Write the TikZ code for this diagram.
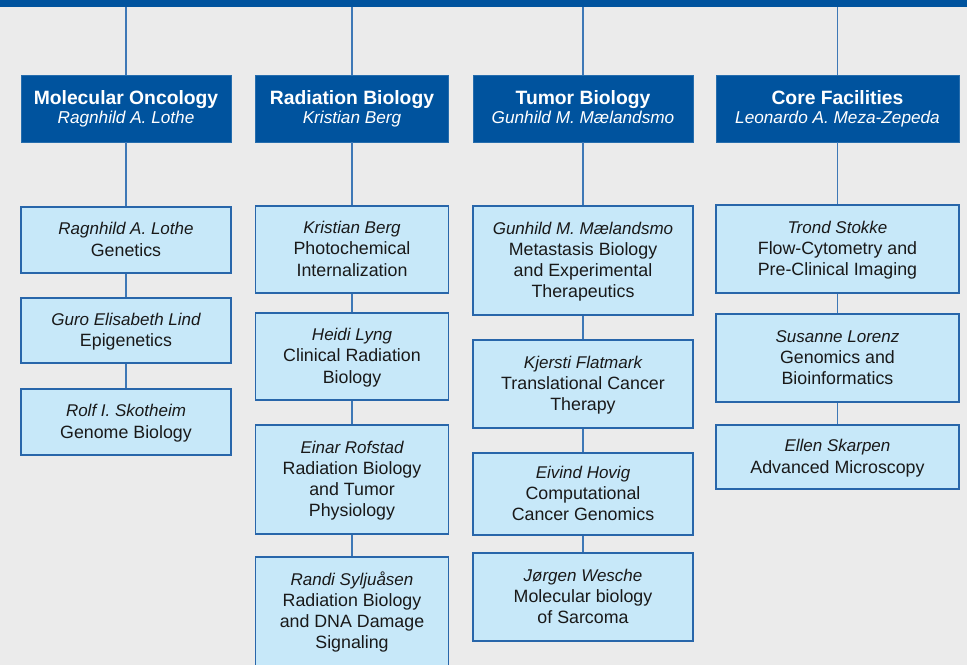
\documentclass[tikz,border=0pt]{standalone}
\usepackage{fontspec}
\setmainfont{Liberation Sans}
\definecolor{pagebg}{RGB}{235,235,235}
\definecolor{headblue}{RGB}{0,83,158}
\definecolor{unitfill}{RGB}{199,232,249}
\definecolor{unitline}{RGB}{40,102,170}
\definecolor{linkblue}{RGB}{62,120,182}
\definecolor{inktext}{RGB}{25,25,25}
% department header: bold title over the italic head name
\newcommand\hd[2]{\begin{tabular}{@{}c@{}}\rule{0pt}{17.7bp}{\fontsize{19.3bp}{19bp}\selectfont\bfseries #1}\\\itshape #2\end{tabular}}
% research group: italic leader name, then the group's field
\newcommand\ut[2]{\begin{tabular}{@{}c@{}}\rule{0pt}{17.3bp}{\fontsize{17bp}{21.3bp}\selectfont\itshape #1}\\#2\end{tabular}}
\begin{document}
\begin{tikzpicture}[x=1bp,y=-1bp,
  topbar/.style={fill=headblue, draw=none, inner sep=0, minimum width=967bp, minimum height=7bp},
  head/.style={fill=headblue, draw=headblue!85!white, line width=0.8bp, inner sep=0,
    text=white, font=\fontsize{17.2bp}{19bp}\selectfont},
  unit/.style={fill=unitfill, draw=unitline, line width=1.3bp, inner sep=0,
    text=inktext, font=\fontsize{17.8bp}{21.3bp}\selectfont},
  link/.style={draw=linkblue, line width=1.5bp}]
\useasboundingbox (0,0) rectangle (967,665);
\clip (0,0) rectangle (967,665);
\fill[pagebg] (0,0) rectangle (967,665);

% bar across the top
\node[topbar] (bar) at (483.5,3.5) {};

% department headers
\node[head, minimum width=210bp, minimum height=67bp] (h1) at (126,108.5)
  {\hd{Molecular Oncology}{Ragnhild A. Lothe}};
\node[head, minimum width=193bp, minimum height=67bp] (h2) at (352,108.5)
  {\hd{Radiation Biology}{Kristian Berg}};
\node[head, minimum width=220bp, minimum height=67bp] (h3) at (583,108.5)
  {\hd{Tumor Biology}{Gunhild M. Mælandsmo}};
\node[head, minimum width=243bp, minimum height=67bp] (h4) at (837.5,108.5)
  {\hd{Core Facilities}{Leonardo A. Meza-Zepeda}};

% Molecular Oncology groups
\node[unit, minimum width=210bp, minimum height=66bp] (a1) at (126,240)
  {\ut{Ragnhild A. Lothe}{Genetics}};
\node[unit, minimum width=210bp, minimum height=65bp] (a2) at (126,330.5)
  {\ut{Guro Elisabeth Lind}{Epigenetics}};
\node[unit, minimum width=210bp, minimum height=66bp] (a3) at (126,422)
  {\ut{Rolf I. Skotheim}{Genome Biology}};

% Radiation Biology groups
\node[unit, minimum width=193bp, minimum height=87bp] (b1) at (352,249.5)
  {\ut{Kristian Berg}{Photochemical\\Internalization}};
\node[unit, minimum width=193bp, minimum height=87bp] (b2) at (352,356.5)
  {\ut{Heidi Lyng}{Clinical Radiation\\Biology}};
\node[unit, minimum width=193bp, minimum height=109bp] (b3) at (352,479.5)
  {\ut{Einar Rofstad}{Radiation Biology\\and Tumor\\Physiology}};
\node[unit, minimum width=193bp, minimum height=109bp] (b4) at (352,611.5)
  {\ut{Randi Syljuåsen}{Radiation Biology\\and DNA Damage\\Signaling}};

% Tumor Biology groups
\node[unit, minimum width=220bp, minimum height=109bp] (c1) at (583,260.5)
  {\ut{Gunhild M. Mælandsmo}{Metastasis Biology\\and Experimental\\Therapeutics}};
\node[unit, minimum width=220bp, minimum height=88bp] (c2) at (583,384)
  {\ut{Kjersti Flatmark}{Translational Cancer\\Therapy}};
\node[unit, minimum width=220bp, minimum height=82bp] (c3) at (583,494)
  {\ut{Eivind Hovig}{Computational\\Cancer Genomics}};
\node[unit, minimum width=220bp, minimum height=88bp] (c4) at (583,597)
  {\ut{Jørgen Wesche}{Molecular biology\\of Sarcoma}};

% Core Facilities groups
\node[unit, minimum width=243bp, minimum height=88bp] (d1) at (837.5,249)
  {\ut{Trond Stokke}{Flow-Cytometry and\\Pre-Clinical Imaging}};
\node[unit, minimum width=243bp, minimum height=88bp] (d2) at (837.5,358)
  {\ut{Susanne Lorenz}{Genomics and\\Bioinformatics}};
\node[unit, minimum width=243bp, minimum height=64bp] (d3) at (837.5,457)
  {\ut{Ellen Skarpen}{Advanced Microscopy}};

% connectors
\foreach \h in {h1,h2,h3,h4}
  \draw[link] (bar.south -| \h.north) -- (\h.north);
\draw[link] (h1.south) -- (a1.north) (a1.south) -- (a2.north) (a2.south) -- (a3.north);
\draw[link] (h2.south) -- (b1.north) (b1.south) -- (b2.north) (b2.south) -- (b3.north) (b3.south) -- (b4.north);
\draw[link] (h3.south) -- (c1.north) (c1.south) -- (c2.north) (c2.south) -- (c3.north) (c3.south) -- (c4.north);
\draw[link] (h4.south) -- (d1.north) (d1.south) -- (d2.north) (d2.south) -- (d3.north);
\end{tikzpicture}
\end{document}
